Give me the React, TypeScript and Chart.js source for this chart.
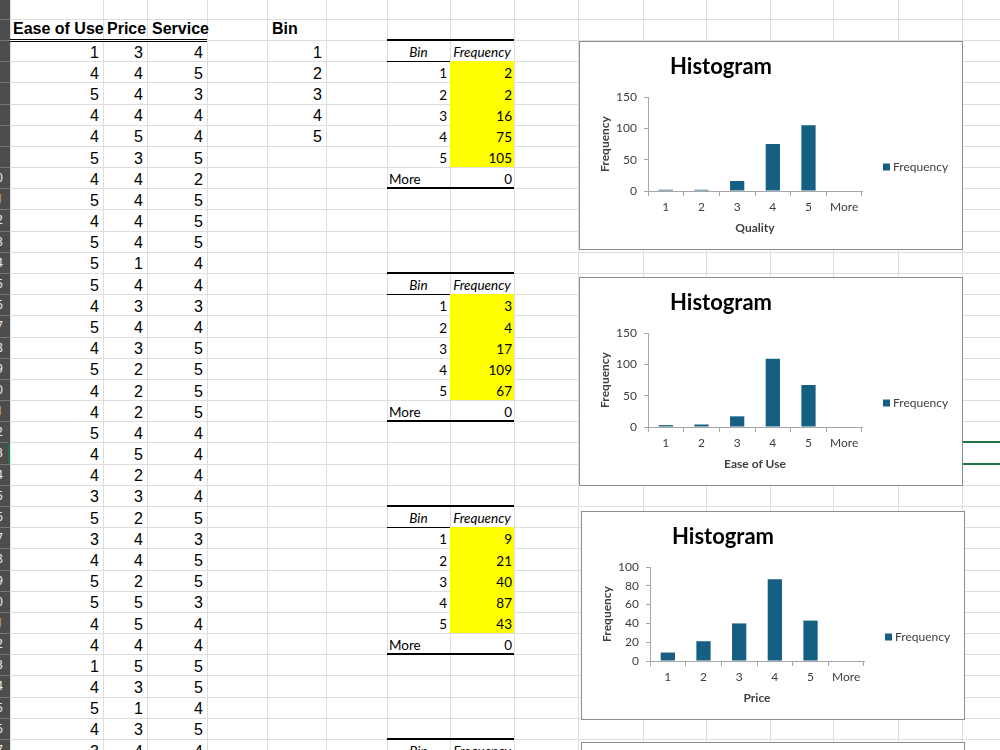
import { useEffect, useRef } from "react";
import { Chart, registerables } from "chart.js";

Chart.register(...registerables);

// Survey responses (one row per respondent)
const easeOfUse = [1, 4, 5, 4, 4, 5, 4, 5, 4, 5, 5, 5, 4, 5, 4, 5, 4, 4, 5, 4, 4, 3, 5, 3, 4, 5, 5, 4, 4, 1, 4, 5, 4, 3];
const price = [3, 4, 4, 4, 5, 3, 4, 4, 4, 4, 1, 4, 3, 4, 3, 2, 2, 2, 4, 5, 2, 3, 2, 4, 4, 2, 5, 5, 4, 5, 3, 1, 3, 4];
const service = [4, 5, 3, 4, 4, 5, 2, 5, 5, 5, 4, 4, 3, 4, 5, 5, 5, 5, 4, 4, 4, 4, 5, 3, 5, 5, 3, 4, 4, 5, 5, 4, 5, 4];

// Bin range and histogram output
const bins = [1, 2, 3, 4, 5];
const binLabels = ["1", "2", "3", "4", "5", "More"];
const qualityFreq = [2, 2, 16, 75, 105, 0];
const easeFreq = [3, 4, 17, 109, 67, 0];
const priceFreq = [9, 21, 40, 87, 43, 0];

const ROW_H = 21.18;
const DATA_TOP = 40;
const rowTop = (i: number) => DATA_TOP + i * ROW_H;
const COL_X = [10, 103, 147, 207, 267, 326, 387, 450, 514, 578, 643, 706, 770, 833, 898, 962];

const ARIAL = 'Arial, "Liberation Sans", sans-serif';
const LATO = 'Lato, "Noto Sans", sans-serif';
const BAR_COLOR = "#156082";
const AXIS_COLOR = "#A6A6A6";
const TEXT_COLOR = "#404040";

// Draws the series key to the right of the plot area
const sideLegend = {
  id: "sideLegend",
  afterDraw(chart: any, _args: any, opts: any) {
    const ctx = chart.ctx;
    const ds = chart.data.datasets[0];
    ctx.save();
    ctx.fillStyle = ds.backgroundColor;
    ctx.fillRect(opts.x, opts.y - 3.5, 7, 7);
    ctx.font = `12px ${LATO}`;
    ctx.fillStyle = TEXT_COLOR;
    ctx.textBaseline = "middle";
    ctx.textAlign = "left";
    ctx.fillText(ds.label, opts.x + 10, opts.y);
    ctx.restore();
  },
};

type HistProps = { left: number; top: number; freq: number[]; yMax: number; yStep: number; xTitle: string };

function HistogramChart({ left, top, freq, yMax, yStep, xTitle }: HistProps) {
  const ref = useRef<HTMLCanvasElement>(null);
  useEffect(() => {
    const tickFont = { family: LATO, size: 12 };
    const titleFont = { family: LATO, size: 12, weight: "bold" as const };
    const chart = new Chart(ref.current!, {
      type: "bar",
      data: {
        labels: binLabels,
        datasets: [
          {
            label: "Frequency",
            data: freq,
            backgroundColor: BAR_COLOR,
            borderWidth: 0,
            barPercentage: 0.4,
            categoryPercentage: 1,
          },
        ],
      },
      options: {
        responsive: false,
        animation: false,
        devicePixelRatio: 1,
        layout: { padding: { left: 0, right: 100, top: 0, bottom: 0 } },
        plugins: {
          legend: { display: false },
          tooltip: { enabled: false },
          title: {
            display: true,
            text: "Histogram",
            color: "#000",
            font: { family: LATO, size: 22, weight: "bold" },
            padding: { top: 12, bottom: 16.6 },
          },
          sideLegend: { x: 303, y: 125 },
        } as any,
        scales: {
          x: {
            type: "category",
            offset: true,
            grid: {
              offset: true,
              drawOnChartArea: false,
              drawTicks: true,
              tickLength: 5,
              color: AXIS_COLOR,
            },
            border: { display: true, color: AXIS_COLOR },
            ticks: { font: tickFont, color: TEXT_COLOR, padding: 4, maxRotation: 0 },
            title: {
              display: true,
              text: xTitle,
              font: titleFont,
              color: TEXT_COLOR,
              padding: { top: 0, bottom: 13.8 },
            },
            afterFit: (s: any) => {
              s.height = 58;
            },
          },
          y: {
            min: 0,
            max: yMax,
            grid: {
              drawOnChartArea: false,
              drawTicks: true,
              tickLength: 4,
              color: AXIS_COLOR,
            },
            border: { display: true, color: AXIS_COLOR },
            ticks: { stepSize: yStep, font: tickFont, color: TEXT_COLOR, padding: 7 },
            title: {
              display: true,
              text: "Frequency",
              font: titleFont,
              color: TEXT_COLOR,
              padding: { top: 17.8, bottom: 0 },
            },
            afterFit: (s: any) => {
              s.width = 68;
            },
          },
        },
      },
      plugins: [sideLegend],
    });
    return () => chart.destroy();
  }, [freq, yMax, yStep, xTitle]);

  return (
    <div
      style={{
        position: "absolute",
        left,
        top,
        width: 384,
        height: 209,
        boxSizing: "border-box",
        border: "1px solid #8C8C8C",
        background: "#fff",
      }}
    >
      <canvas ref={ref} width={382} height={207} style={{ display: "block" }} />
    </div>
  );
}

type TxtProps = {
  left: number;
  width: number;
  top: number;
  align?: "left" | "right" | "center";
  family: string;
  size: number;
  bold?: boolean;
  italic?: boolean;
  children: any;
};

function Txt({ left, width, top, align = "left", family, size, bold, italic, children }: TxtProps) {
  return (
    <div
      style={{
        position: "absolute",
        left,
        width,
        top,
        textAlign: align,
        fontFamily: family,
        fontSize: size,
        fontWeight: bold ? "bold" : "normal",
        fontStyle: italic ? "italic" : "normal",
        lineHeight: `${size}px`,
        whiteSpace: "nowrap",
        color: "#000",
      }}
    >
      {children}
    </div>
  );
}

// Sheet cell text: Arial values sit 3px above the row's bottom edge
const sheetTop = (i: number) => rowTop(i) + ROW_H - 3 - 13.5;
const tableTop = (i: number) => rowTop(i) + ROW_H - 3 - 12;

function FreqTable({ start, freq, showBody = true }: { start: number; freq: number[]; showBody?: boolean }) {
  const gL = COL_X[6];
  const hL = COL_X[7];
  const hR = COL_X[8];
  const items: any[] = [];
  items.push(<div key="top" style={{ position: "absolute", left: gL, width: hR - gL, top: rowTop(start) - 1, height: 2, background: "#000" }} />);
  items.push(
    <Txt key="hb" left={gL} width={hL - gL} top={tableTop(start)} align="center" family={LATO} size={13.5} italic>
      Bin
    </Txt>
  );
  items.push(
    <Txt key="hf" left={hL - 4} width={hR - hL + 8} top={tableTop(start)} align="center" family={LATO} size={13.5} italic>
      Frequency
    </Txt>
  );
  if (showBody) {
    items.push(<div key="hl" style={{ position: "absolute", left: gL, width: hR - gL, top: Math.round(rowTop(start + 1)), height: 1, background: "#000" }} />);
    items.push(
      <div
        key="yel"
        style={{
          position: "absolute",
          left: hL,
          width: hR - hL,
          top: rowTop(start + 1),
          height: ROW_H * 5,
          background: "#FFFF00",
        }}
      />
    );
    binLabels.forEach((b, k) => {
      const r = start + 1 + k;
      const isMore = b === "More";
      items.push(
        <Txt key={`b${k}`} left={isMore ? gL + 2 : gL} width={isMore ? 60 : hL - gL - 3} top={tableTop(r)} align={isMore ? "left" : "right"} family={LATO} size={13.5}>
          {b}
        </Txt>
      );
      items.push(
        <Txt key={`f${k}`} left={hL} width={hR - hL - 2} top={tableTop(r)} align="right" family={LATO} size={13.5}>
          {freq[k]}
        </Txt>
      );
    });
    items.push(<div key="bot" style={{ position: "absolute", left: gL, width: hR - gL, top: rowTop(start + 7) - 1, height: 2, background: "#000" }} />);
  }
  return <>{items}</>;
}

export default function App() {
  const hLines: number[] = [];
  for (let i = -1; i <= 34; i++) hLines.push(Math.round(rowTop(i)));
  const rowNums: number[] = [];
  for (let i = -2; i <= 33; i++) rowNums.push(i);

  return (
    <div
      style={{
        position: "fixed",
        left: 0,
        top: 0,
        width: 1000,
        height: 750,
        overflow: "hidden",
        background: "#fff",
      }}
    >
      {/* gridlines */}
      {hLines.map((y, k) => (
        <div key={`h${k}`} style={{ position: "absolute", left: 10, right: 0, top: y, height: 1, background: "#DEDEDE" }} />
      ))}
      {COL_X.map((x, k) => (
        <div key={`v${k}`} style={{ position: "absolute", left: x, top: 0, width: 1, height: 750, background: "#DEDEDE" }} />
      ))}

      {/* row headings */}
      <div style={{ position: "absolute", left: 0, top: 0, width: 10, height: 750, background: "#4D4D4D", overflow: "hidden" }}>
        {rowNums.map((i) => (
          <div key={`rn${i}`}>
            <div style={{ position: "absolute", left: 0, width: 10, top: Math.round(rowTop(i)), height: 1, background: "#767676" }} />
            <div
              style={{
                position: "absolute",
                left: -40,
                width: 72,
                top: rowTop(i),
                height: ROW_H,
                lineHeight: `${ROW_H}px`,
                textAlign: "center",
                fontFamily: '"Noto Sans", sans-serif',
                fontSize: 12,
                color: "#EDEDED",
              }}
            >
              {i + 4}
            </div>
          </div>
        ))}
        <div style={{ position: "absolute", left: 8, width: 2, top: rowTop(19), height: ROW_H, background: "#217346" }} />
      </div>

      {/* column headers */}
      <Txt left={13} width={100} top={20.8} family={ARIAL} size={16} bold>
        Ease of Use
      </Txt>
      <Txt left={107} width={50} top={20.8} family={ARIAL} size={16} bold>
        Price
      </Txt>
      <Txt left={152} width={70} top={20.8} family={ARIAL} size={16} bold>
        Service
      </Txt>
      <Txt left={272} width={50} top={20.8} family={ARIAL} size={16} bold>
        Bin
      </Txt>
      <div
        style={{
          position: "absolute",
          left: 10,
          width: 197,
          top: 39,
          height: 3,
          boxSizing: "border-box",
          borderTop: "1px solid #000",
          borderBottom: "1px solid #000",
          background: "#fff",
        }}
      />

      {/* response columns */}
      {easeOfUse.map((v, i) => (
        <Txt key={`a${i}`} left={COL_X[0]} width={COL_X[1] - COL_X[0] - 4} top={sheetTop(i)} align="right" family={ARIAL} size={16}>
          {v}
        </Txt>
      ))}
      {price.map((v, i) => (
        <Txt key={`p${i}`} left={COL_X[1]} width={COL_X[2] - COL_X[1] - 4} top={sheetTop(i)} align="right" family={ARIAL} size={16}>
          {v}
        </Txt>
      ))}
      {service.map((v, i) => (
        <Txt key={`s${i}`} left={COL_X[2]} width={COL_X[3] - COL_X[2] - 4} top={sheetTop(i)} align="right" family={ARIAL} size={16}>
          {v}
        </Txt>
      ))}
      {bins.map((v, i) => (
        <Txt key={`bin${i}`} left={COL_X[4]} width={COL_X[5] - COL_X[4] - 4} top={sheetTop(i)} align="right" family={ARIAL} size={16}>
          {v}
        </Txt>
      ))}

      {/* histogram output tables */}
      <FreqTable start={0} freq={qualityFreq} />
      <FreqTable start={11} freq={easeFreq} />
      <FreqTable start={22} freq={priceFreq} />
      <FreqTable start={33} freq={[]} showBody={false} />

      {/* active cell */}
      <div
        style={{
          position: "absolute",
          left: 961,
          top: rowTop(19) - 1,
          width: 80,
          height: ROW_H + 2,
          boxSizing: "border-box",
          border: "2px solid #217346",
        }}
      />

      <HistogramChart left={579} top={41} freq={qualityFreq} yMax={150} yStep={50} xTitle="Quality" />
      <HistogramChart left={579} top={277} freq={easeFreq} yMax={150} yStep={50} xTitle="Ease of Use" />
      <HistogramChart left={581} top={511} freq={priceFreq} yMax={100} yStep={20} xTitle="Price" />
      <div
        style={{
          position: "absolute",
          left: 581,
          top: 742,
          width: 384,
          height: 209,
          boxSizing: "border-box",
          border: "1px solid #8C8C8C",
          background: "#fff",
        }}
      />
    </div>
  );
}
